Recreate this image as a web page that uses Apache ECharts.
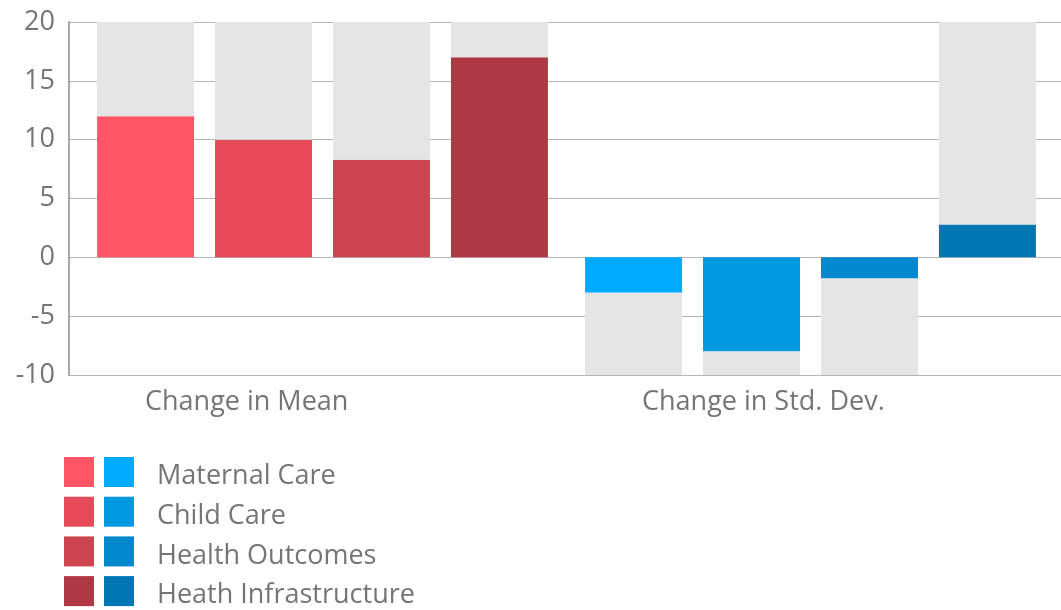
<!DOCTYPE html>
<html>
<head>
<meta charset="utf-8">
<title>Change in Mean and Std. Dev.</title>
<script src="https://cdn.jsdelivr.net/npm/echarts@6/dist/echarts.min.js"></script>
<style>
  html, body { margin: 0; padding: 0; background: #ffffff; }
  #chart { width: 1061px; height: 610px; }
</style>
</head>
<body>
<div id="chart"></div>
<script>
// Groups along the x axis
const groups = ['Change in Mean', 'Change in Std. Dev.'];
// One series per health dimension: [change in mean, change in std. dev.]
const seriesNames = ['Maternal Care', 'Child Care', 'Health Outcomes', 'Heath Infrastructure'];
const maternalCare = [12, -3];
const childCare = [10, -8];
const healthOutcomes = [8.3, -1.8];
const heathInfrastructure = [17, 2.8];
const seriesValues = [maternalCare, childCare, healthOutcomes, heathInfrastructure];
// Value axis range and ticks
const yMin = -10;
const yMax = 20;
const yStep = 5;

// Colours: red shades for the mean, blue shades for the std. dev.
const meanColors = ['#ff5566', '#e64a59', '#cc4450', '#b03845'];
const sdColors = ['#00aaff', '#0099e0', '#0088cc', '#0077b3'];
const trackColor = '#e5e5e5';
const textColor = '#757575';
const lineColor = '#b5b5b5';
const fontFamily = '"Open Sans", "Noto Sans", sans-serif';
const fontSize = 27;

const series = [];
seriesValues.forEach((vals, i) => {
  // coloured bar from zero to the value
  series.push({
    name: seriesNames[i],
    type: 'bar',
    xAxisIndex: 1,
    yAxisIndex: 1,
    stack: 's' + i,
    barWidth: 97,
    barGap: '21.6%',
    itemStyle: { color: meanColors[i] },
    data: vals.map((v, g) => ({
      value: v,
      itemStyle: { color: g === 0 ? meanColors[i] : sdColors[i] }
    }))
  });
  // grey track from the value out to the end of the axis
  series.push({
    name: 'track ' + i,
    type: 'bar',
    xAxisIndex: 1,
    yAxisIndex: 1,
    stack: 's' + i,
    barWidth: 97,
    barGap: '21.6%',
    silent: true,
    itemStyle: { color: trackColor },
    data: vals.map(v => (v >= 0 ? yMax : yMin) - v)
  });
});

const chart = echarts.init(document.getElementById('chart'), null, { renderer: 'canvas' });

const legendBase = {
  orient: 'vertical',
  top: 457,
  height: 170,
  padding: 0,
  itemWidth: 30,
  itemHeight: 30,
  itemGap: 9.7,
  icon: 'rect',
  selectedMode: false
};

chart.setOption({
  animation: false,
  backgroundColor: '#ffffff',
  textStyle: { fontFamily: fontFamily },
  grid: [
    // frame: value labels, axis line and grid lines
    { left: 69, right: 0, top: 22, bottom: 235 },
    // bars
    { left: 78.5, right: 6.5, top: 22, bottom: 235 }
  ],
  xAxis: [
    {
      gridIndex: 0,
      type: 'category',
      data: groups,
      show: false
    },
    {
      gridIndex: 1,
      type: 'category',
      data: groups,
      show: false
    }
  ],
  yAxis: [
    {
      gridIndex: 0,
      type: 'value',
      min: yMin,
      max: yMax,
      interval: yStep,
      axisLine: { show: true, lineStyle: { color: '#a8a8a8', width: 2 } },
      axisTick: { show: false },
      axisLabel: {
        color: textColor,
        fontSize: fontSize,
        fontFamily: fontFamily,
        margin: 14
      },
      splitLine: { show: true, lineStyle: { color: lineColor, width: 1 } }
    },
    {
      gridIndex: 1,
      type: 'value',
      min: yMin,
      max: yMax,
      interval: yStep,
      show: false,
      splitLine: { show: false }
    }
  ],
  legend: [
    // red swatches (change in mean)
    Object.assign({}, legendBase, {
      left: 64,
      formatter: () => '',
      data: seriesNames.map((n, i) => ({ name: n, itemStyle: { color: meanColors[i] } }))
    }),
    // blue swatches (change in std. dev.)
    Object.assign({}, legendBase, {
      left: 104,
      formatter: () => '',
      data: seriesNames.map((n, i) => ({ name: n, itemStyle: { color: sdColors[i] } }))
    }),
    // names, sitting a little below the swatch centres
    Object.assign({}, legendBase, {
      left: 152,
      top: 463,
      itemWidth: 0,
      itemHeight: 27,
      itemGap: 12.7,
      textStyle: {
        color: textColor,
        fontSize: fontSize,
        fontFamily: fontFamily
      },
      data: seriesNames.map(n => ({ name: n, itemStyle: { opacity: 0 } }))
    })
  ],
  graphic: [
    {
      type: 'text',
      left: 145,
      top: 389,
      style: { text: groups[0], fill: textColor, font: fontSize + 'px ' + fontFamily }
    },
    {
      type: 'text',
      left: 642,
      top: 389,
      style: { text: groups[1], fill: textColor, font: fontSize + 'px ' + fontFamily }
    }
  ],
  series: series
});
</script>
</body>
</html>
